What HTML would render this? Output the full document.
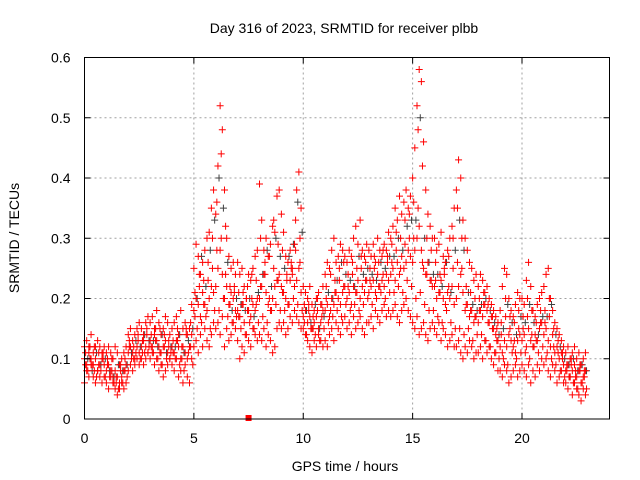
<!DOCTYPE html>
<html><head><meta charset="utf-8"><style>
body{margin:0;background:#fff}
svg{display:block;font-family:"Liberation Sans",sans-serif}
</style></head><body>
<svg id="chart" width="640" height="480">
<rect width="640" height="480" fill="#fff"/>
<text x="344" y="33" font-size="14" text-anchor="middle">Day 316 of 2023, SRMTID for receiver plbb</text>
<text x="345" y="471" font-size="14" text-anchor="middle">GPS time / hours</text>
<text transform="translate(19,238) rotate(-90)" font-size="14" text-anchor="middle">SRMTID / TECUs</text>
<g id="grid"></g>
<g id="marks"></g>
<rect x="84.5" y="57.5" width="525" height="361.5" fill="none" stroke="#000" stroke-width="1"/>
<g id="ticks"></g>
</svg>
<script>
const xTicks=[0,5,10,15,20];
const yTicks=[0,0.1,0.2,0.3,0.4,0.5,0.6];
const yTickLabels=["0","0.1","0.2","0.3","0.4","0.5","0.6"];
const sLow=[.06,.08,.07,.09,.07,.06,.08,.07,.06,.07,.06,.05,.07,.06,.05,.04,.05,.06,.05,.06,.08,.09,.08,.09,.10,.09,.10,.09,.10,.11,.10,.11,.09,.10,.08,.09,.07,.08,.09,.10,.09,.08,.10,.07,.08,.06,.09,.07,.06,.10,.12,.13,.11,.14,.12,.15,.13,.12,.14,.16,.15,.16,.14,.17,.12,.15,.13,.14,.16,.15,.13,.10,.12,.11,.14,.13,.12,.15,.14,.13,.14,.13,.15,.12,.14,.13,.11,.12,.15,.16,.15,.16,.14,.15,.17,.16,.18,.17,.16,.15,.15,.14,.13,.12,.11,.13,.12,.14,.13,.12,.13,.12,.14,.15,.13,.16,.15,.14,.16,.17,.15,.16,.14,.17,.15,.16,.17,.15,.14,.16,.16,.17,.15,.18,.17,.16,.18,.19,.17,.18,.17,.18,.19,.17,.16,.18,.19,.20,.18,.17,.16,.15,.17,.14,.15,.16,.14,.13,.15,.16,.15,.14,.16,.13,.15,.14,.12,.13,.14,.12,.12,.13,.11,.10,.12,.11,.13,.12,.10,.11,.11,.12,.10,.13,.11,.12,.10,.09,.11,.08,.08,.07,.09,.08,.06,.07,.08,.09,.07,.08,.09,.08,.07,.09,.06,.08,.07,.09,.08,.10,.09,.10,.08,.07,.09,.08,.06,.07,.08,.06,.06,.05,.07,.04,.06,.05,.04,.03,.05,.04];
const sMid=[.10,.09,.11,.10,.09,.10,.08,.09,.10,.09,.08,.09,.08,.07,.08,.07,.06,.07,.08,.09,.11,.12,.11,.10,.12,.11,.12,.13,.12,.11,.13,.12,.14,.13,.12,.11,.12,.13,.11,.10,.12,.11,.13,.12,.10,.12,.11,.10,.12,.14,.18,.20,.19,.17,.21,.19,.18,.20,.22,.21,.22,.25,.28,.24,.20,.22,.19,.21,.20,.18,.18,.17,.19,.16,.20,.18,.17,.19,.18,.20,.20,.22,.24,.21,.19,.18,.20,.22,.23,.24,.22,.21,.20,.19,.23,.24,.22,.23,.25,.21,.17,.18,.16,.17,.15,.16,.17,.15,.16,.18,.18,.19,.17,.20,.19,.21,.20,.19,.21,.22,.20,.21,.19,.22,.21,.23,.20,.22,.21,.23,.21,.22,.23,.21,.24,.22,.23,.22,.24,.23,.24,.25,.23,.26,.24,.27,.25,.26,.28,.27,.26,.28,.30,.32,.28,.25,.24,.26,.23,.22,.22,.20,.21,.23,.20,.19,.21,.20,.22,.19,.20,.22,.24,.21,.18,.19,.17,.18,.16,.17,.16,.18,.17,.19,.18,.16,.17,.15,.14,.13,.12,.11,.13,.12,.14,.13,.12,.11,.13,.14,.13,.14,.12,.15,.13,.12,.14,.13,.15,.16,.14,.15,.13,.12,.14,.11,.12,.10,.11,.09,.08,.09,.07,.08,.09,.07,.08,.06,.07,.08];
const sHigh=[.12,.13,.12,.14,.11,.12,.13,.12,.11,.12,.11,.12,.11,.10,.12,.11,.09,.10,.11,.12,.14,.15,.13,.14,.15,.16,.15,.14,.16,.17,.16,.17,.15,.18,.16,.14,.15,.17,.16,.14,.15,.16,.17,.14,.18,.15,.16,.14,.15,.19,.25,.29,.27,.24,.26,.28,.30,.31,.35,.38,.34,.42,.52,.48,.38,.30,.27,.25,.26,.24,.26,.24,.25,.22,.20,.24,.23,.25,.27,.28,.39,.33,.28,.30,.27,.29,.32,.31,.37,.38,.34,.31,.27,.26,.28,.25,.29,.38,.41,.35,.22,.21,.20,.22,.19,.18,.20,.21,.19,.22,.24,.26,.25,.28,.30,.26,.27,.29,.28,.27,.26,.28,.27,.30,.32,.29,.33,.28,.27,.29,.28,.27,.29,.26,.30,.28,.27,.29,.28,.31,.30,.32,.35,.33,.37,.34,.36,.38,.35,.37,.40,.45,.52,.58,.56,.46,.38,.34,.32,.30,.30,.28,.29,.31,.27,.26,.28,.30,.32,.35,.38,.43,.40,.33,.30,.28,.26,.25,.23,.24,.22,.24,.23,.21,.22,.20,.19,.18,.17,.16,.18,.22,.25,.24,.20,.18,.17,.19,.21,.20,.20,.19,.23,.26,.22,.18,.17,.19,.20,.21,.22,.24,.25,.20,.18,.16,.15,.14,.13,.12,.11,.12,.10,.11,.12,.10,.11,.09,.10,.11];
const sExtraA=[.11,.10,.12,.09,.11,.09,.10,.07,.08,.10,.13,.12,.14,.13,.15,.14,.13,.15,.12,.13,.13,.15,.12,.14,.16,.21,.24,.23,.26,.30,.36,.44,.32,.22,.21,.21,.19,.22,.24,.23,.30,.26,.27,.33,.29,.28,.24,.26,.33,.30,.19,.18,.17,.20,.19,.22,.24,.23,.25,.26,.24,.26,.25,.27,.26,.25,.27,.26,.28,.27,.29,.31,.30,.33,.34,.36,.48,.42,.30,.28,.26,.24,.25,.27,.30,.35,.30,.22,.21,.20,.20,.21,.19,.17,.15,.16,.20,.17,.16,.18,.17,.20,.18,.16,.18,.18,.20,.15,.13,.11,.09,.10,.08,.09,.08];
const sExtraB=[.08,.09,.07,.08,.07,.07,.06,.05,.06,.07,.10,.11,.10,.11,.12,.11,.10,.09,.10,.11,.10,.09,.08,.11,.09,.15,.16,.17,.15,.18,.18,.20,.17,.16,.17,.15,.14,.16,.15,.16,.17,.16,.18,.19,.18,.18,.19,.20,.19,.18,.14,.15,.14,.13,.15,.16,.17,.18,.17,.19,.18,.19,.18,.19,.20,.19,.20,.21,.20,.21,.21,.22,.21,.23,.22,.20,.21,.19,.18,.18,.17,.16,.18,.16,.15,.15,.14,.15,.13,.14,.14,.13,.12,.11,.10,.10,.09,.11,.10,.11,.11,.10,.12,.11,.12,.11,.10,.09,.08,.07,.07,.06,.05,.06,.05];
const sExtraC=[.09,.12,.08,.11,.10,.10,.08,.06,.09,.08,.12,.10,.13,.11,.14,.12,.15,.11,.14,.12,.11,.13,.10,.15,.12,.17,.22,.19,.23,.25,.28,.30,.24,.19,.22,.17,.21,.18,.20,.19,.22,.24,.20,.25,.23,.21,.23,.25,.28,.26,.16,.19,.15,.18,.17,.20,.18,.21,.23,.22,.22,.24,.21,.25,.23,.23,.25,.22,.24,.26,.26,.28,.25,.29,.30,.30,.35,.26,.24,.23,.23,.21,.24,.22,.25,.26,.25,.19,.18,.17,.18,.19,.16,.15,.13,.14,.17,.15,.13,.15,.15,.17,.14,.13,.16,.16,.17,.12,.11,.10,.08,.09,.07,.08,.07];
const sGray=[.10,.08,.11,.09,.10,.08,.07,.09,.08,.09,.11,.13,.12,.14,.13,.13,.12,.14,.11,.12,.12,.14,.11,.13,.15,.20,.27,.22,.28,.33,.40,.35,.26,.18,.20,.19,.18,.20,.17,.21,.24,.28,.22,.30,.27,.25,.27,.29,.36,.31,.18,.16,.19,.15,.17,.21,.20,.23,.26,.24,.23,.22,.27,.24,.25,.24,.23,.26,.25,.27,.27,.30,.28,.32,.33,.33,.50,.30,.26,.24,.24,.22,.26,.21,.28,.33,.28,.21,.19,.18,.19,.20,.18,.16,.14,.15,.19,.16,.14,.17,.16,.19,.16,.14,.17,.17,.19,.14,.12,.10,.09,.10,.08,.09,.08];
const NS="http://www.w3.org/2000/svg";
const L=84.5,R=609.5,T=57.5,B=419,xMax=24,yMax=0.6;
function xs(v){return L+(R-L)*v/xMax}
function ys(v){return B-(B-T)*v/yMax}
const grid=document.getElementById('grid'),ticks=document.getElementById('ticks'),marks=document.getElementById('marks');
function mk(tag,attrs,parent){const e=document.createElementNS(NS,tag);for(const k in attrs)e.setAttribute(k,attrs[k]);parent.appendChild(e);return e}
xTicks.forEach(v=>{
  const x=xs(v);
  if(v>0){const g=mk('line',{x1:x,x2:x,y1:T,y2:B,stroke:'#a0a0a0','stroke-dasharray':'2,3'},grid);
  
  }
  mk('line',{x1:x,x2:x,y1:B,y2:B-6,stroke:'#000'},ticks);
  mk('line',{x1:x,x2:x,y1:T,y2:T+6,stroke:'#000'},ticks);
  const t=mk('text',{x:x,y:B+24,'font-size':14,'text-anchor':'middle'},ticks);t.textContent=v;
  
  
});
yTicks.forEach((v,i)=>{
  const y=ys(v);
  if(v>0){const g=mk('line',{x1:L,x2:R,y1:y,y2:y,stroke:'#a0a0a0','stroke-dasharray':'2,3'},grid);
  
  }
  mk('line',{x1:L,x2:L+6,y1:y,y2:y,stroke:'#000'},ticks);
  mk('line',{x1:R,x2:R-6,y1:y,y2:y,stroke:'#000'},ticks);
  const t=mk('text',{x:L-14,y:y+5,'font-size':14,'text-anchor':'end'},ticks);t.textContent=yTickLabels[i];
  
  
});
function drawSeries(arr,t0,step,color,name){
  let d='';
  arr.forEach((v,i)=>{const x=xs(t0+i*step),y=ys(v);d+=`M${x-3.5},${y}h7M${x},${y-3.5}v7`;});
  const p=mk('path',{d:d,stroke:color,'stroke-width':1,fill:'none'},marks);
  
  
}
drawSeries(sGray,0.15,0.2,'#404040','series-gray');
drawSeries(sLow,0,0.1,'#ff0000','series-low');
drawSeries(sMid,0,0.1,'#ff0000','series-mid');
drawSeries(sHigh,0,0.1,'#ff0000','series-high');
drawSeries(sExtraA,0.05,0.2,'#ff0000','series-extra-a');
drawSeries(sExtraB,0.15,0.2,'#ff0000','series-extra-b');
drawSeries(sExtraC,0.05,0.2,'#ff0000','series-extra-c');
const m=mk('rect',{x:xs(7.5)-3,y:B-4,width:6,height:6,fill:'#ff0000'},marks);


</script>
</body></html>
